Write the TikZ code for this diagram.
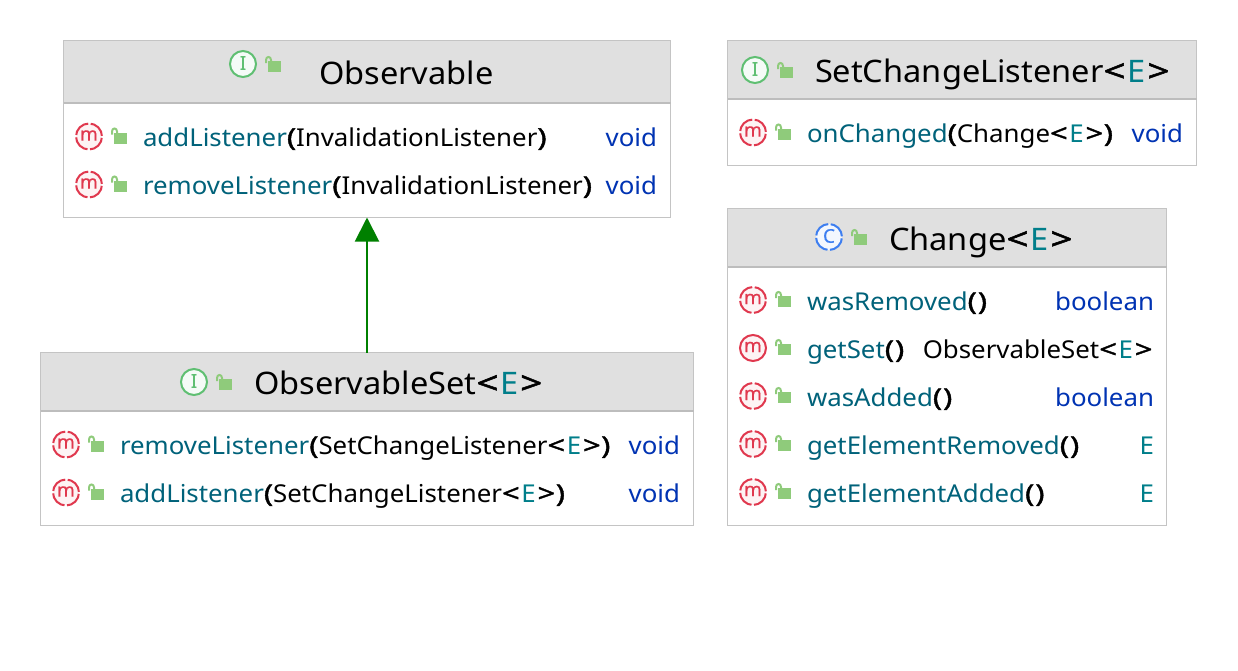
\documentclass[tikz,border=0pt]{standalone}
\usepackage{fontspec}
\setmainfont[FakeStretch=1.05]{Noto Sans}
\newfontfamily\heavy[FakeBold=1.6,FakeStretch=1.25]{Noto Sans}
\newfontfamily\iconfont[FakeBold=0.4]{Noto Sans}
\usetikzlibrary{arrows.meta,calc}
\definecolor{mth}{HTML}{00627A}
\definecolor{typ}{HTML}{0033B3}
\definecolor{gen}{HTML}{007E8A}
\definecolor{hdr}{HTML}{E0E0E0}
\definecolor{brd}{HTML}{C4C4C4}
\definecolor{sepc}{HTML}{BDBDBD}
\definecolor{mred}{HTML}{E0384E}
\definecolor{ifg}{HTML}{5FBF72}
\definecolor{cblue}{HTML}{3D7EF0}
\definecolor{lock}{HTML}{8FCB7B}
\definecolor{arr}{HTML}{008000}
\tikzset{
  x=1pt,y=-1pt,
  umlbox/.style={draw=brd,line width=1pt,fill=white,inner sep=0pt,outer sep=0pt},
  rowtxt/.style={anchor=base west,inner sep=0pt,outer sep=0pt,font=\fontsize{24.6}{28}\selectfont},
  rettxt/.style={anchor=base east,inner sep=0pt,outer sep=0pt,font=\fontsize{24.6}{28}\selectfont},
  titletxt/.style={anchor=base west,inner sep=0pt,outer sep=0pt,font=\fontsize{31}{34}\selectfont},
  iconletter/.style={inner sep=0pt,outer sep=0pt,font=\iconfont\fontsize{19}{20}\selectfont}
}
\newcommand{\Mn}[1]{\textcolor{mth}{#1}}
\newcommand{\Ty}[1]{\textcolor{typ}{#1}}
\newcommand{\Gn}{\textcolor{gen}{E}}
\newcommand{\Lp}{{\heavy(}}
\newcommand{\Rp}{{\heavy)}}
\newcommand{\Em}{\Lp\kern1pt\Rp}
\newcommand{\Gen}{{\heavy<}\kern1.8pt\Gn\kern1.8pt{\heavy>}\kern0.6pt}
% x1 y1 x2 y2 separator name
\newcommand{\ClassBox}[6]{%
  \fill[hdr] (#1,#2) rectangle (#3,#5);
  \path let \p1=(#1,#2), \p2=(#3,#4) in
    node[umlbox,fill=none,anchor=north west,minimum width=\x2-\x1,minimum height=\y1-\y2] (#6) at (#1,#2) {};
  \draw[sepc,line width=2pt] (#1,#5) -- (#3,#5);
}
\newcommand{\LockIcon}[2]{%
  \fill[lock] (#1-5,#2-4) rectangle (#1+8,#2+7);
  \draw[lock,line width=2pt] (#1-7,#2-2) -- (#1-7,#2-5) .. controls (#1-7,#2-9) and (#1-2,#2-9) .. (#1-2,#2-5) -- (#1-2,#2-3);
}
\newcommand{\BadgeIcon}[5]{%
  \fill[#4!6!white] (#1,#2) circle[radius=13];
  \draw[#4,line width=2pt,#5] (#1,#2) circle[radius=13];
  \node[iconletter,text=#4] at (#1,#2-1) {#3};
}
\tikzset{brk/.style={dash pattern=on 17.9pt off 2.5pt,dash phase=19pt},sld/.style={}}
\newcommand{\MthIcon}[3]{%
  \BadgeIcon{#1}{#2}{m}{mred}{#3}
  \LockIcon{#1+30}{#2}
}
\begin{document}
\begin{tikzpicture}
\useasboundingbox (0,0) rectangle (1238,670);
\fill[white] (0,0) rectangle (1238,670);

% Observable
\ClassBox{63.5}{40.5}{670.5}{217.5}{102.5}{obs}
\BadgeIcon{243}{64}{I}{ifg}{sld}
\LockIcon{273}{65}
\node[titletxt] (obsT) at (319,84) {Observable};
\MthIcon{89}{136.5}{brk}
\node[rowtxt] (o1) at (143,146) {\Mn{addListener}\Lp InvalidationListener\Rp};
\node[rettxt] (o1r) at (657,146) {\Ty{void}};
\MthIcon{89}{184.5}{brk}
\node[rowtxt] (o2) at (143,194) {\Mn{removeListener}\Lp InvalidationListener\Rp};
\node[rettxt] (o2r) at (657,194) {\Ty{void}};

% ObservableSet
\ClassBox{40.5}{352.5}{693.5}{525.5}{410.5}{os}
\BadgeIcon{194}{382}{I}{ifg}{sld}
\LockIcon{224}{383}
\node[titletxt] (osT) at (254,394) {ObservableSet\Gen};
\MthIcon{66}{444.5}{brk}
\node[rowtxt] (s1) at (120,454) {\Mn{removeListener}\Lp SetChangeListener\Gen\Rp};
\node[rettxt] (s1r) at (680,454) {\Ty{void}};
\MthIcon{66}{492.5}{brk}
\node[rowtxt] (s2) at (120,502) {\Mn{addListener}\Lp SetChangeListener\Gen\Rp};
\node[rettxt] (s2r) at (680,502) {\Ty{void}};

% SetChangeListener
\ClassBox{727.5}{40.5}{1196.5}{165.5}{99}{scl}
\BadgeIcon{755}{70}{I}{ifg}{sld}
\LockIcon{785}{71}
\node[titletxt] (sclT) at (815,82) {SetChangeListener\Gen};
\MthIcon{753}{132.5}{brk}
\node[rowtxt] (c0) at (807,142) {\Mn{onChanged}\Lp Change\Gen\Rp};
\node[rettxt] (c0r) at (1183,142) {\Ty{void}};

% Change
\ClassBox{727.5}{208.5}{1166.5}{525.5}{267}{chg}
\BadgeIcon{829}{237}{C}{cblue}{brk}
\LockIcon{859}{238}
\node[titletxt] (chT) at (889,250) {Change\Gen};
\MthIcon{753}{300}{brk}
\node[rowtxt] (h1) at (807,310) {\Mn{wasRemoved}\Em};
\node[rettxt] (h1r) at (1154,310) {\Ty{boolean}};
\MthIcon{753}{348}{sld}
\node[rowtxt] (h2) at (807,358) {\Mn{getSet}\Em};
\node[rettxt] (h2r) at (1153,358) {ObservableSet\Gen};
\MthIcon{753}{396}{brk}
\node[rowtxt] (h3) at (807,406) {\Mn{wasAdded}\Em};
\node[rettxt] (h3r) at (1154,406) {\Ty{boolean}};
\MthIcon{753}{444}{brk}
\node[rowtxt] (h4) at (807,454) {\Mn{getElementRemoved}\Em};
\node[rettxt] (h4r) at (1154,454) {\Gn};
\MthIcon{753}{492}{brk}
\node[rowtxt] (h5) at (807,502) {\Mn{getElementAdded}\Em};
\node[rettxt] (h5r) at (1154,502) {\Gn};

% Inheritance
\draw[arr,line width=2pt,-{Triangle[width=24pt,length=24pt,fill=arr]}] (os.north) -- (obs.south);
\end{tikzpicture}
\end{document}
